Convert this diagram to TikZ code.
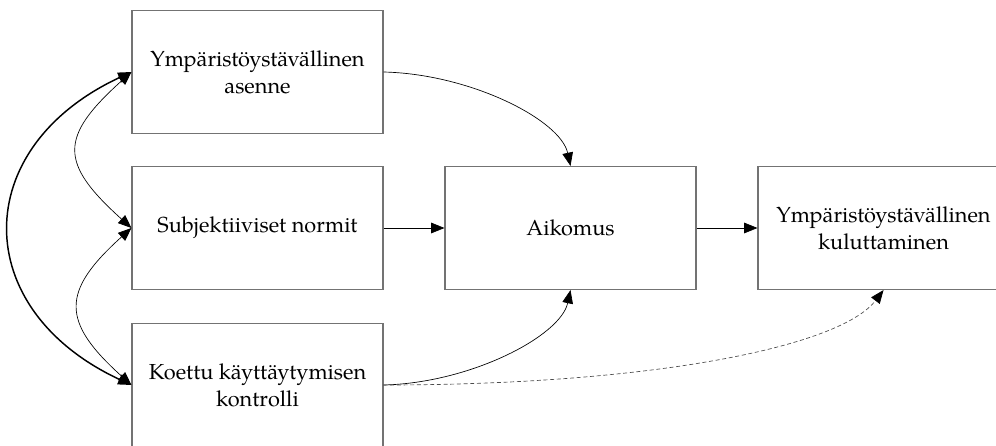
\documentclass[tikz,border=0pt]{standalone}
\usepackage{fontspec}
\setmainfont{TeX Gyre Pagella}
\usetikzlibrary{arrows.meta}

\begin{document}
\begin{tikzpicture}[x=0.75pt, y=0.75pt, >={Triangle[length=10pt,width=8pt]},
  box/.style={draw=black!55, line width=1.1pt, minimum width=188pt, minimum height=92pt,
    inner sep=0pt, align=center, font=\fontsize{16.3}{20}\selectfont},
  link/.style={->, line width=0.5pt},
  corr/.style={<->, line width=0.5pt}]
  \useasboundingbox (0,0) rectangle (996,446);
  % the five boxes
  \node[box] (att)  at (257.5,374) {Ympäristöystävällinen\\asenne};
  \node[box] (norm) at (257.5,218) {Subjektiiviset normit};
  \node[box] (ctrl) at (257.5,61)  {Koettu käyttäytymisen\\kontrolli};
  \node[box] (aik)  at (570.5,218) {Aikomus};
  \node[box] (kul)  at (883.5,218) {Ympäristöystävällinen\\kuluttaminen};
  % correlations on the left
  \draw[corr, line width=1.1pt] (att.west) to[out=205, in=155, looseness=1.47] (ctrl.west);
  \draw[corr] (att.west) to[out=222, in=138, looseness=1.6] (norm.west);
  \draw[corr] (norm.west) to[out=222, in=138, looseness=1.55] (ctrl.west);
  % paths to intention and behaviour
  \draw[link] (att.east) .. controls +(87,-2) and +(-10,46) .. (aik.north);
  \draw[link] (norm.east) -- (aik.west);
  \draw[link] (ctrl.east) .. controls +(87,2) and +(-10,-46) .. (aik.south);
  \draw[link] (aik.east) -- (kul.west);
  \draw[line width=0.5pt, black!70, dash pattern=on 3pt off 2pt, -{Triangle[length=10pt,width=8pt,black]}]
    (ctrl.east) .. controls +(267,0) and +(-43.5,-57) .. (kul.south);
\end{tikzpicture}
\end{document}
